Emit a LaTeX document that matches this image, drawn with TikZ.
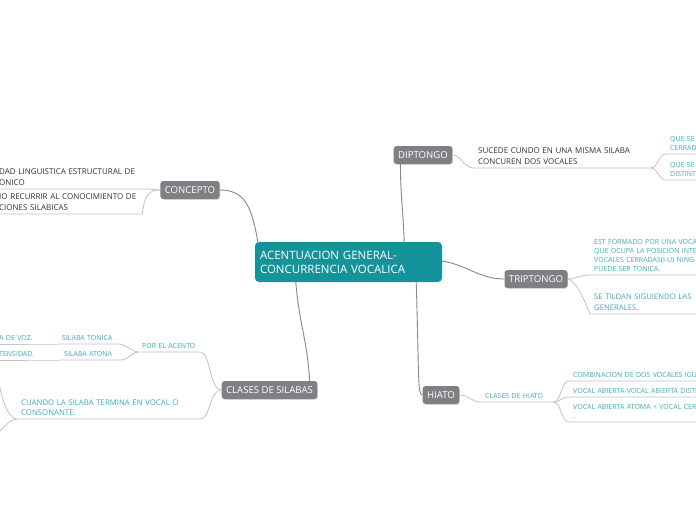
\documentclass[tikz,border=0pt]{standalone}
\usepackage{fontspec}
\setmainfont{Open Sans}
\usetikzlibrary{positioning,shadows}
\definecolor{rootteal}{RGB}{21,147,155}
\definecolor{topicgray}{RGB}{127,127,132}
\definecolor{leafteal}{RGB}{62,172,180}
\definecolor{leafdark}{RGB}{51,51,51}
\definecolor{branchgray}{RGB}{135,135,135}
\definecolor{twiggray}{RGB}{195,195,195}

\begin{document}
\begin{tikzpicture}[
    x=1pt, y=-1pt,
    root/.style={
        fill=rootteal,
        rounded corners=4pt,
        text=white,
        minimum width=187pt,
        minimum height=40pt,
        text width=177pt,
        align=left,
        font=\fontsize{11.5}{14}\selectfont
    },
    topic/.style={
        fill=topicgray,
        rounded corners=3pt,
        text=white,
        minimum height=18pt,
        inner xsep=4.5pt,
        drop shadow={opacity=0.25, shadow xshift=0.6pt, shadow yshift=-0.8pt},
        font=\fontsize{9.6}{11}\selectfont
    },
    leaf/.style={
        anchor=south west,
        inner xsep=4pt,
        inner ysep=3pt,
        align=left,
        text=leafdark,
        font=\fontsize{8}{11}\selectfont
    },
    tealleaf/.style={
        leaf,
        text=leafteal,
        font=\fontsize{7}{9}\selectfont
    },
    branch/.style={draw=branchgray, line width=0.9pt},
    twig/.style={draw=twiggray, line width=0.8pt}
]
\useasboundingbox (0,0) rectangle (696,520);
\fill[white] (0,0) rectangle (696,520);
\clip (0,0) rectangle (696,520);

% ---------------- Main topic ----------------
\node[root] (root) at (348.5,262) {ACENTUACION GENERAL-\\CONCURRENCIA VOCALICA};

\node[topic] (concepto) at (190,190) {CONCEPTO};
\node[topic] (clases) at (269.5,390) {CLASES DE SILABAS};
\node[topic] (diptongo) at (423,155) {DIPTONGO};
\node[topic] (triptongo) at (536,279) {TRIPTONGO};
\node[topic] (hiato) at (441,395) {HIATO};

\draw[branch] ([xshift=3pt]root.north west) .. controls +(-6,-35) and +(25,0) .. (concepto.east);
\draw[branch] ([xshift=41pt]root.south west) .. controls +(3,40) and +(-2,-40) .. ([xshift=-8pt]clases.north east);
\draw[branch] ([xshift=-38pt]root.north east) .. controls +(-1,-30) and +(0,30) .. ([xshift=7pt]diptongo.south west);
\draw[branch] ([yshift=1pt]root.east) .. controls +(25,4) and +(-25,0) .. (triptongo.west);
\draw[branch] ([xshift=-26pt]root.south east) .. controls +(3,95) and +(-5,0) .. (hiato.west);

% ---------------- Concepto ----------------
\node[leaf, text width=144pt] (c1) at (-5,189) {DAD LINGUISTICA ESTRUCTURAL DE\\ONICO};
\node[leaf, text width=139pt] (c2) at (-5,214) {IO RECURRIR AL CONOCIMIENTO DE\\CIONES SILABICAS};

\draw[twig] (concepto.west) .. controls +(-6,0) and +(5,0) .. (c1.south east) -- (c1.south west);
\draw[twig] (concepto.west) .. controls +(-12,0) and +(2,-18) .. (c2.south east) -- (c2.south west);

% ---------------- Clases de silabas ----------------
\node[tealleaf, text width=54pt] (acento) at (138,352) {POR EL ACENTO};
\node[tealleaf, text width=52pt] (tonica) at (58,344) {SILABA TONICA};
\node[tealleaf, text width=52pt] (atona) at (60,360) {SILABA ATONA};
\node[tealleaf, text width=53pt] (voz) at (-5,344) {A DE VOZ.};
\node[tealleaf, text width=53pt] (intens) at (-5,360) {TENSIDAD.};
\node[tealleaf, text width=175pt, font=\fontsize{7.8}{10.5}\selectfont] (cuando) at (17,419)
    {CUANDO LA SILABA TERMINA EN VOCAL O\\CONSONANTE.};
\coordinate (cuup) at (-1,380);
\coordinate (cudn) at (-3,434);

\draw[twig] (clases.west) .. controls +(-12,0) and +(10,0) .. (acento.south east) -- (acento.south west);
\draw[twig] (acento.south west) .. controls +(-6,0) and +(8,0) .. (tonica.south east) -- (tonica.south west);
\draw[twig] (acento.south west) .. controls +(-6,0) and +(8,0) .. (atona.south east) -- (atona.south west);
\draw[twig] (tonica.south west) -- (voz.south east) -- (voz.south west);
\draw[twig] (atona.south west) -- (intens.south east) -- (intens.south west);
\draw[twig] (clases.west) .. controls +(-12,0) and +(10,0) .. (cuando.south east) -- (cuando.south west);
\draw[twig] (cuando.south west) .. controls +(-9,0) and +(1,15) .. (cuup);
\draw[twig] (cuando.south west) .. controls +(-8,0) and +(4,-3) .. (cudn);

% ---------------- Diptongo ----------------
\node[leaf, text width=168pt] (sucede) at (474,168) {SUCEDE CUNDO EN UNA MISMA SILABA\\CONCUREN DOS VOCALES};
\node[tealleaf, text width=40pt] (cerrad) at (666,154) {QUE SE\\CERRAD};
\node[tealleaf, text width=40pt] (distint) at (666,180) {QUE SE\\DISTINT};

\draw[twig] (diptongo.east) .. controls +(8,0) and +(-10,0) .. (sucede.south west) -- (sucede.south east);
\draw[twig] (sucede.south east) .. controls +(8,0) and +(-8,0) .. (cerrad.south west) -- (cerrad.south east);
\draw[twig] (sucede.south east) .. controls +(8,0) and +(-8,0) .. (distint.south west) -- (distint.south east);

% ---------------- Triptongo ----------------
\node[tealleaf, text width=200pt] (formado) at (590,275)
    {EST FORMADO POR UNA VOCA\\QUE OCUPA LA POSICION INTE\\VOCALES CERRADAS(I-U) NING\\PUEDE SER TONICA.};
\node[tealleaf, text width=200pt, font=\fontsize{7.7}{11.5}\selectfont] (tildan) at (590,314)
    {SE TILDAN SIGUIENDO LAS\\GENERALES.};

\draw[twig] (triptongo.east) .. controls +(8,0) and +(-10,0) .. (formado.south west) -- (formado.south east);
\draw[twig] (triptongo.east) .. controls +(8,0) and +(-4,-10) .. (tildan.south west) -- (tildan.south east);

% ---------------- Hiato ----------------
\node[tealleaf, text width=64pt] (clhiato) at (481,402) {CLASES DE HIATO};
\node[tealleaf, text width=200pt] (igual) at (569,381) {COMBINACION DE DOS VOCALES IGU};
\node[tealleaf, text width=200pt] (dist) at (569,397) {VOCAL ABIERTA-VOCAL ABIERTA DISTI};
\node[tealleaf, text width=200pt] (cerr) at (569,422) {VOCAL ABIERTA ATOMA + VOCAL CERR\\.};

\draw[twig] (hiato.east) .. controls +(10,0) and +(-10,0) .. (clhiato.south west) -- (clhiato.south east);
\draw[twig] (clhiato.south east) .. controls +(8,0) and +(-8,0) .. (igual.south west) -- (igual.south east);
\draw[twig] (clhiato.south east) .. controls +(8,0) and +(-8,0) .. (dist.south west) -- (dist.south east);
\draw[twig] (clhiato.south east) .. controls +(8,0) and +(-8,0) .. (cerr.south west) -- (cerr.south east);

\end{tikzpicture}
\end{document}
